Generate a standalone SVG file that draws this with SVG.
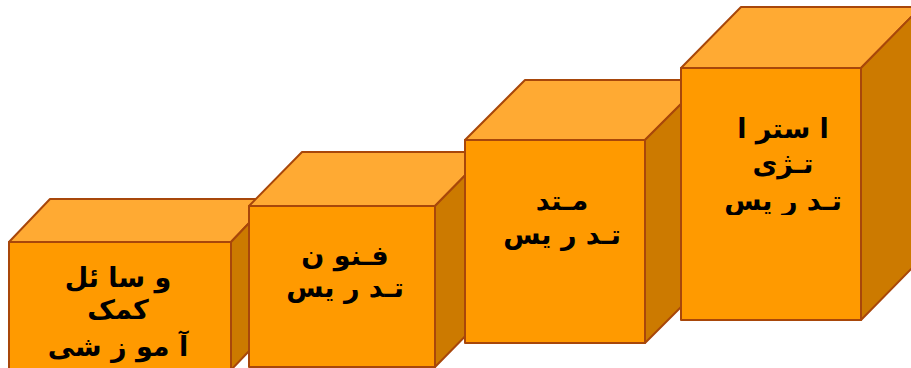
<svg xmlns="http://www.w3.org/2000/svg" width="911" height="368" viewBox="0 0 911 368">
<style>
.front{fill:#FF9A00;stroke:#A8470A;stroke-width:2;stroke-linejoin:round}
.top{fill:#FFAA33;stroke:#A8470A;stroke-width:2;stroke-linejoin:round}
.side{fill:#CC7A00;stroke:#A8470A;stroke-width:2;stroke-linejoin:round}
.lbl{font-family:"DejaVu Sans","Noto Sans",sans-serif;font-weight:bold;font-size:27px;fill:#000;text-anchor:middle}
</style>
<defs>
<clipPath id="c1"><rect x="9" y="242" width="222" height="126"/></clipPath>
<clipPath id="c4"><rect x="681" y="68" width="180" height="147"/></clipPath>
</defs>
<rect width="911" height="368" fill="#fff"/>
<g id="cube1">
<polygon class="top" points="9,242 50,199 272,199 231,242"/>
<polygon class="side" points="231,242 272,199 272,327 231,370"/>
<rect class="front" x="9" y="242" width="222" height="128"/>
<g clip-path="url(#c1)">
<text class="lbl" x="118" y="287" direction="rtl">و سا ئل</text>
<text class="lbl" x="118" y="319" direction="rtl">کمک</text>
<text class="lbl" x="118" y="356" direction="rtl">آ مو ز شی</text>
</g>
</g>
<g id="cube2">
<polygon class="top" points="249,206 302,152 488,152 435,206"/>
<polygon class="side" points="435,206 488,152 488,313 435,367"/>
<rect class="front" x="249" y="206" width="186" height="161"/>
<text class="lbl" x="345" y="265" direction="rtl">فـنو ن</text>
<text class="lbl" x="345" y="297" direction="rtl">تـد ر یس</text>
</g>
<g id="cube3">
<polygon class="top" points="465,140 525,80 705,80 645,140"/>
<polygon class="side" points="645,140 705,80 705,283 645,343"/>
<rect class="front" x="465" y="140" width="180" height="203"/>
<text class="lbl" x="562" y="210" direction="rtl">مـتد</text>
<text class="lbl" x="562" y="244" direction="rtl">تـد ر یس</text>
</g>
<g id="cube4">
<polygon class="top" points="681,68 741,7 921,7 861,68"/>
<polygon class="side" points="861,68 921,7 921,259 861,320"/>
<rect class="front" x="681" y="68" width="180" height="252"/>
<g clip-path="url(#c4)">
<text class="lbl" x="783" y="138" direction="rtl">ا ستر ا</text>
<text class="lbl" x="783" y="173" direction="rtl">تـژی</text>
<text class="lbl" x="783" y="210" direction="rtl">تـد ر یس</text>
</g>
</g>
<g id="connectors"/>
</svg>
